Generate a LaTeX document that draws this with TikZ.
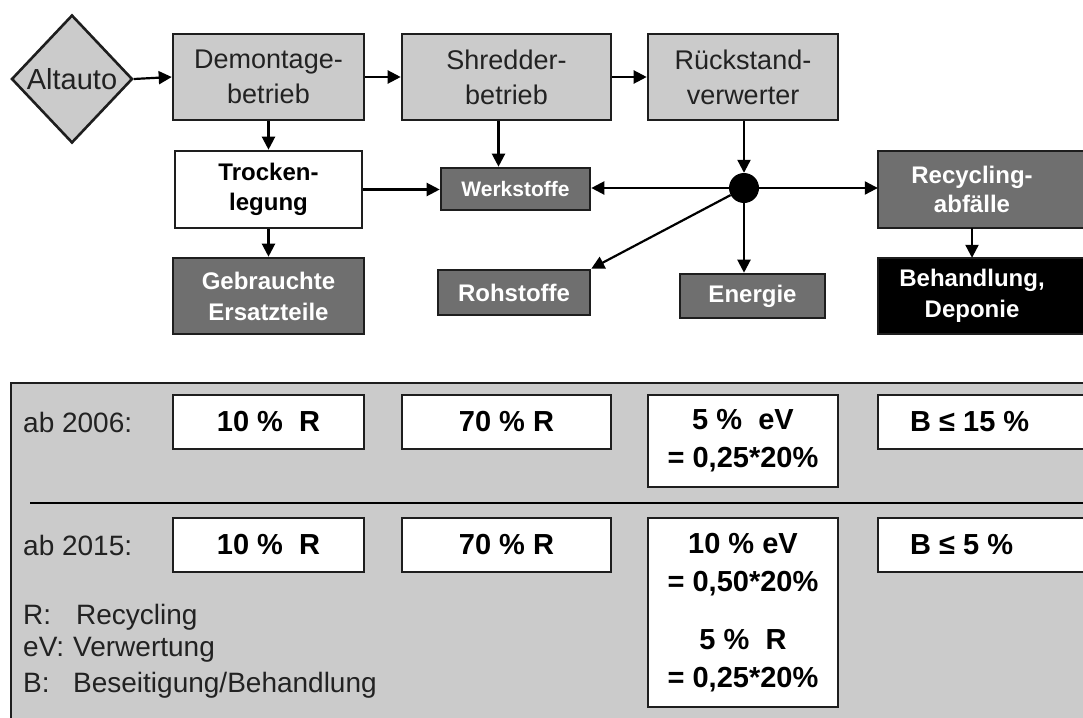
\documentclass[tikz,border=0pt]{standalone}
\usepackage{fontspec}
\setmainfont{Liberation Sans}
\usetikzlibrary{shapes.geometric,arrows.meta,calc}
\definecolor{lgray}{HTML}{CBCBCB}
\definecolor{dgray}{HTML}{6F6F6F}
\definecolor{edge}{HTML}{1E1E1E}
\definecolor{txt}{HTML}{222222}
\newcommand{\fsz}[2]{\fontsize{#1}{#2}\selectfont}
\begin{document}
\begin{tikzpicture}[x=1pt,y=-1pt,
 box/.style={draw=edge,line width=2.6pt,inner sep=0pt,align=center},
 lbox/.style={box,fill=lgray,text=txt,font=\fsz{27}{35}},
 wbox/.style={box,fill=white,text=black,font=\bfseries\fsz{24}{30}},
 dbox/.style={box,fill=dgray,text=white,font=\bfseries\fsz{24}{31}},
 pbox/.style={box,fill=white,text=black,font=\bfseries\fsz{29}{38}},
 ptext/.style={font=\bfseries\fsz{29}{38},text=black,inner sep=0pt,anchor=west},
 arr/.style={draw=black,line width=2.2pt,-{Triangle[length=13pt,width=13pt]}},
 plain/.style={font=\fsz{28}{33},text=txt,inner sep=0pt,anchor=west}]
\useasboundingbox (0,0) rectangle (1083,717);
\fill[white] (0,0) rectangle (1083,717);
\clip (0,0) rectangle (1083,717);

% top flow
\node[diamond,draw=edge,line width=2.6pt,fill=lgray,minimum width=121pt,minimum height=128pt,inner sep=0pt] (alt) at (72,79) {};
\node[font=\fsz{29}{33},text=txt,inner sep=0pt] (altlab) at (72,79) {Altauto};

\node[lbox,minimum width=191pt,minimum height=86pt] (dem) at (268.5,77) {Demontage-\\betrieb};
\node[lbox,minimum width=209pt,minimum height=86pt] (shr) at (506.5,77) {Shredder-\\betrieb};
\node[lbox,minimum width=190pt,minimum height=86pt] (rue) at (743,77) {Rückstand-\\verwerter};
\node[wbox,minimum width=187pt,minimum height=77pt] (tro) at (268.5,189.5) {Trocken-\\legung};
\node[dbox,minimum width=191pt,minimum height=76pt] (geb) at (268.5,296) {Gebrauchte\\Ersatzteile};
\node[dbox,font=\bfseries\fsz{21}{25},minimum width=149pt,minimum height=42pt] (wer) at (515.5,189) {Werkstoffe};
\node[dbox,minimum width=152pt,minimum height=45pt] (roh) at (514,292.5) {Rohstoffe};
\node[dbox,minimum width=145pt,minimum height=44pt] (ene) at (752.5,296) {Energie};
\node[circle,fill=black,minimum size=30pt,inner sep=0pt] (dot) at (744,188) {};

\filldraw[draw=edge,line width=2.6pt,fill=dgray] (878,151) rectangle (1110,228);
\node[font=\bfseries\fsz{24}{29},text=white,align=center,minimum width=188pt,minimum height=77pt,inner sep=0pt] (rec) at (972,189.5) {Recycling-\\abfälle};
\filldraw[draw=edge,line width=2.6pt,fill=black] (878,258) rectangle (1110,334);
\node[font=\bfseries\fsz{24}{31},text=white,align=center,minimum width=188pt,minimum height=76pt,inner sep=0pt] (beh) at (972,296) {Behandlung,\\Deponie};

\draw[arr] (alt.east) -- (dem.west);
\draw[arr] (dem.east) -- (shr.west);
\draw[arr] (shr.east) -- (rue.west);
\draw[arr] (dem.south) -- (tro.north);
\draw[arr] (tro.south) -- (geb.north);
\draw[arr] ([xshift=-8pt]shr.south) -- ([xshift=-8pt]shr.south |- wer.north);
\draw[arr] (tro.east) -- (tro.east -| wer.west);
\draw[arr] (rue.south -| dot) -- (dot.north);
\draw[arr] (dot) -- (dot -| wer.east);
\draw[arr] (dot) -- (dot -| rec.west);
\draw[arr] (dot) -- (roh.north east);
\draw[arr] (dot) -- (dot |- ene.north);
\draw[arr] (rec.south) -- (beh.north);

% bottom panel
\filldraw[draw=edge,line width=2.6pt,fill=lgray] (11,383) rectangle (1110,740);
\draw[black,line width=2.2pt] (30,503) -- (1110,503);

\node[plain] (y06) at (23,422) {ab 2006:};
\node[pbox,minimum width=191pt,minimum height=54pt] (a06) at (268.5,422) {10 \%\ \ R};
\node[pbox,minimum width=209pt,minimum height=54pt] (b06) at (506.5,422) {70 \% R};
\node[pbox,minimum width=190pt,minimum height=92pt] (c06) at (743,441) {5 \%\ \ eV\\= 0,25*20\%};
\filldraw[draw=edge,line width=2.6pt,fill=white] (878,395) rectangle (1110,449);
\node[ptext] (d06) at (910,422) {B ≤ 15 \%};

\node[plain] (y15) at (23,545) {ab 2015:};
\node[pbox,minimum width=191pt,minimum height=54pt] (a15) at (268.5,545) {10 \%\ \ R};
\node[pbox,minimum width=209pt,minimum height=54pt] (b15) at (506.5,545) {70 \% R};
\node[pbox,minimum width=190pt,minimum height=189pt] (c15) at (743,612.5) {10 \% eV\\= 0,50*20\%\\[20pt]5 \%\ \ R\\= 0,25*20\%};
\filldraw[draw=edge,line width=2.6pt,fill=white] (878,518) rectangle (1110,572);
\node[ptext] (d15) at (910,545) {B ≤ 5 \%};

\node[plain] (lr) at (23,617) {\makebox[53pt][l]{R:}Recycling};
\node[plain] (le) at (23,650) {\makebox[50pt][l]{eV:}Verwertung};
\node[plain] (lb) at (23,685) {\makebox[50pt][l]{B:}Beseitigung/Behandlung};
\end{tikzpicture}
\end{document}
